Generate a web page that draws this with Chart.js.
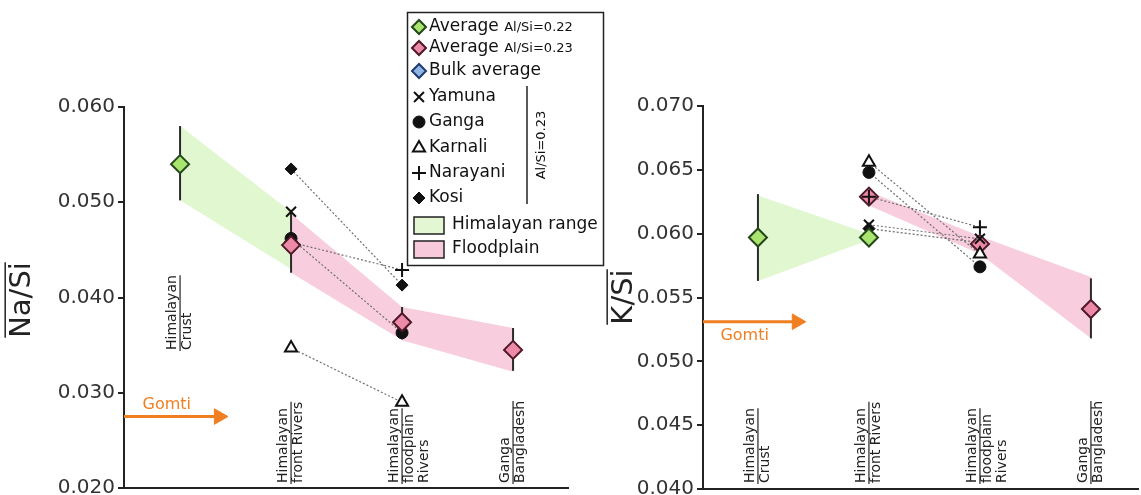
<!DOCTYPE html>
<html>
<head>
<meta charset="utf-8">
<script src="https://cdn.jsdelivr.net/npm/chart.js@4/dist/chart.umd.min.js"></script>
<style>
  html, body { margin: 0; padding: 0; background: #fff; }
  #wrap { position: relative; width: 1141px; height: 495px; overflow: hidden; }
  #naChart { position: absolute; left: 0; top: 0; }
  #kChart { position: absolute; left: 590px; top: 0; }
</style>
</head>
<body>
<div id="wrap">
  <canvas id="naChart" width="620" height="495"></canvas>
  <canvas id="kChart" width="551" height="495"></canvas>
</div>
<script>
// stages along the x axis (index 0..3)
const stageLabels = [
  ["Himalayan", "Crust"],
  ["Himalayan", "front Rivers"],
  ["Himalayan", "floodplain", "Rivers"],
  ["Ganga", "Bangladesh"]
]
const naTicks = [0.020, 0.030, 0.040, 0.050, 0.060]
const kTicks = [0.040, 0.045, 0.050, 0.055, 0.060, 0.065, 0.070]

// Na/Si panel
const naAvg022 = [0.0540, null, null, null]
const naAvg022Lo = [0.0502, null, null, null]
const naAvg022Hi = [0.0580, null, null, null]
const naAvg023 = [null, 0.0455, 0.0374, 0.0345]
const naAvg023Lo = [null, 0.0426, 0.0356, 0.0323]
const naAvg023Hi = [null, 0.0492, 0.0390, 0.0368]
const naYamuna = [null, 0.0490, null, null]
const naGanga = [null, 0.0462, 0.0363, null]
const naKarnali = [null, 0.0347, 0.0290, null]
const naNarayani = [null, 0.0458, 0.0429, null]
const naKosi = [null, 0.0535, 0.0413, null]
const naRangeHi = [0.0580, 0.0490, null, null]
const naRangeLo = [0.0502, 0.0430, null, null]
const naPlainHi = [null, 0.0488, 0.0390, 0.0368]
const naPlainLo = [null, 0.0426, 0.0355, 0.0322]
const naGomti = 0.0275

// K/Si panel
const kAvg022 = [0.0597, 0.0597, null, null]
const kAvg022Lo = [0.0563, null, null, null]
const kAvg022Hi = [0.0631, null, null, null]
const kAvg023 = [null, 0.0629, 0.0592, 0.0541]
const kAvg023Lo = [null, null, null, 0.0518]
const kAvg023Hi = [null, null, null, 0.0565]
const kYamuna = [null, 0.0607, 0.0596, null]
const kGanga = [null, 0.0648, 0.0574, null]
const kKarnali = [null, 0.0656, 0.0584, null]
const kNarayani = [null, 0.0629, 0.0605, null]
const kKosi = [null, 0.0604, 0.0593, null]
const kRangeHi = [0.0630, 0.0600, null, null]
const kRangeLo = [0.0563, 0.0595, null, null]
const kPlainHi = [null, 0.0633, 0.0598, 0.0566]
const kPlainLo = [null, 0.0622, 0.0584, 0.0518]
const kGomti = 0.0531

const FONT = '"DejaVu Sans", Verdana, sans-serif'
const ORANGE = "#f07f22"

const styles = {
  avg022: { pointStyle: "rectRot", radius: 9, fill: "#a8e46e", stroke: "#24461a", width: 2 },
  avg023: { pointStyle: "rectRot", radius: 9, fill: "#ec8aa8", stroke: "#4d1828", width: 2 },
  bulk: { pointStyle: "rectRot", radius: 7, fill: "#90b4e4", stroke: "#1f3c6e", width: 2 },
  yamuna: { pointStyle: "crossRot", radius: 7, fill: "#111", stroke: "#111", width: 2 },
  ganga: { pointStyle: "circle", radius: 6, fill: "#111", stroke: "#111", width: 1 },
  karnali: { pointStyle: "triangle", radius: 7, fill: "#fff", stroke: "#111", width: 2 },
  narayani: { pointStyle: "cross", radius: 7, fill: "#111", stroke: "#111", width: 2 },
  kosi: { pointStyle: "rectRot", radius: 6, fill: "#111", stroke: "#111", width: 1 }
}

const pts = arr => arr.map((v, i) => (v == null ? null : { x: i, y: v })).filter(Boolean)

function markers(label, arr, st, order, linked) {
  return {
    label, data: pts(arr), order,
    showLine: !!linked, borderColor: "#6f6f6f", borderWidth: 1.2, borderDash: [2, 2],
    pointStyle: st.pointStyle, pointRadius: st.radius, pointHoverRadius: st.radius,
    pointBackgroundColor: st.fill, pointBorderColor: st.stroke, pointBorderWidth: st.width
  }
}

function errorBars(lo, hi) {
  const sets = []
  lo.forEach((l, i) => {
    if (l == null || hi[i] == null) return
    sets.push({
      data: [{ x: i, y: l }, { x: i, y: hi[i] }], order: 4,
      showLine: true, borderColor: "#2a2a2a", borderWidth: 2, pointRadius: 0
    })
  })
  return sets
}

function band(hi, lo, color) {
  return [
    { data: pts(hi), order: 9, showLine: true, borderWidth: 0, pointRadius: 0, fill: false },
    { data: pts(lo), order: 9, showLine: true, borderWidth: 0, pointRadius: 0, fill: "-1", backgroundColor: color }
  ]
}

function gomtiArrow(value, xFrom, xTo) {
  return {
    data: [{ x: xFrom, y: value }, { x: xTo, y: value }], order: 6,
    showLine: true, borderColor: ORANGE, borderWidth: 3,
    pointStyle: "triangle", pointRadius: [0, 9], pointRotation: 90,
    pointBackgroundColor: ORANGE, pointBorderColor: ORANGE, pointBorderWidth: 1
  }
}

function overlineText(ctx, text, cx, cy, size) {
  ctx.save()
  ctx.translate(cx, cy)
  ctx.rotate(-Math.PI / 2)
  ctx.font = size + "px " + FONT
  ctx.fillStyle = "#222"
  ctx.textAlign = "center"
  ctx.textBaseline = "middle"
  ctx.fillText(text, 0, 0)
  const w = ctx.measureText(text).width
  ctx.strokeStyle = "#222"
  ctx.lineWidth = 1.5
  ctx.beginPath()
  ctx.moveTo(-w / 2, -size * 0.58)
  ctx.lineTo(w / 2, -size * 0.58)
  ctx.stroke()
  ctx.restore()
}

// annotations: stage labels, axis title with overline, Gomti caption
const annotate = {
  id: "annotate",
  afterDraw(chart, args, opts) {
    const { ctx, scales: { x, y } } = chart
    ctx.save()
    ctx.font = "14px " + FONT
    ctx.fillStyle = "#222"
    ctx.strokeStyle = "#222"
    ctx.lineWidth = 1.2
    stageLabels.forEach((lines, i) => {
      const px = x.getPixelForValue(i)
      const by = opts.labelBottoms[i]
      const widths = lines.map(t => ctx.measureText(t).width)
      lines.forEach((t, j) => {
        ctx.save()
        ctx.translate(px - 7.5 + j * 15, by)
        ctx.rotate(-Math.PI / 2)
        ctx.textAlign = "left"
        ctx.textBaseline = "middle"
        ctx.fillText(t, 0, 0)
        ctx.restore()
      })
      const len = Math.max(widths[0], widths[1])
      ctx.beginPath()
      ctx.moveTo(px, by + 1)
      ctx.lineTo(px, by - len)
      ctx.stroke()
    })
    ctx.restore()

    overlineText(ctx, opts.title, opts.titleX, opts.titleY, 29)

    ctx.save()
    ctx.font = "16px " + FONT
    ctx.fillStyle = ORANGE
    ctx.textAlign = "center"
    ctx.textBaseline = "middle"
    ctx.fillText("Gomti", x.getPixelForValue(-0.12), y.getPixelForValue(opts.gomti) + opts.gomtiDy)
    ctx.restore()
  }
}

// legend box drawn on the left panel
const legendRows = [
  { name: "Average", note: "Al/Si=0.22", st: styles.avg022 },
  { name: "Average", note: "Al/Si=0.23", st: styles.avg023 },
  { name: "Bulk average", st: styles.bulk },
  { name: "Yamuna", st: styles.yamuna },
  { name: "Ganga", st: styles.ganga },
  { name: "Karnali", st: styles.karnali },
  { name: "Narayani", st: styles.narayani },
  { name: "Kosi", st: styles.kosi },
  { name: "Himalayan range", swatch: "#e2f7d2" },
  { name: "Floodplain", swatch: "#f8c9db" }
]
const legendRowY = [27, 48, 71, 97, 122, 148, 173, 198, 225, 249]

const boxLegend = {
  id: "boxLegend",
  afterDraw(chart) {
    const ctx = chart.ctx
    ctx.save()
    ctx.fillStyle = "#fff"
    ctx.fillRect(407, 12, 196, 253)
    ctx.strokeStyle = "#222"
    ctx.lineWidth = 1.5
    ctx.strokeRect(407.5, 12.5, 196, 253)
    legendRows.forEach((row, k) => {
      const yy = legendRowY[k]
      let tx = 429
      if (row.swatch) {
        ctx.fillStyle = row.swatch
        ctx.fillRect(414, yy - 8, 30, 17)
        ctx.strokeStyle = "#222"
        ctx.lineWidth = 1.5
        ctx.strokeRect(414, yy - 8, 30, 17)
        tx = 452
      } else {
        const st = row.st
        ctx.fillStyle = st.fill
        ctx.strokeStyle = st.stroke
        ctx.lineWidth = st.width
        Chart.helpers.drawPoint(ctx, { pointStyle: st.pointStyle, radius: Math.min(st.radius, 7), rotation: 0, borderWidth: st.width }, 419, yy)
      }
      ctx.fillStyle = "#111"
      ctx.font = "17px " + FONT
      ctx.textAlign = "left"
      ctx.textBaseline = "middle"
      ctx.fillText(row.name, tx, yy)
      if (row.note) {
        const w = ctx.measureText(row.name + " ").width
        ctx.font = "13px " + FONT
        ctx.fillText(row.note, tx + w, yy + 1)
      }
    })
    ctx.strokeStyle = "#222"
    ctx.lineWidth = 1.5
    ctx.beginPath()
    ctx.moveTo(527, 86)
    ctx.lineTo(527, 204)
    ctx.stroke()
    ctx.save()
    ctx.translate(542, 145)
    ctx.rotate(-Math.PI / 2)
    ctx.font = "13px " + FONT
    ctx.fillStyle = "#111"
    ctx.textAlign = "center"
    ctx.textBaseline = "middle"
    ctx.fillText("Al/Si=0.23", 0, 0)
    ctx.restore()
    ctx.restore()
  }
}

function makeChart(id, cfg) {
  return new Chart(document.getElementById(id), {
    type: "line",
    data: { datasets: cfg.datasets },
    options: {
      responsive: false,
      animation: false,
      events: [],
      elements: { line: { tension: 0 } },
      layout: { padding: cfg.padding, autoPadding: false },
      plugins: { legend: { display: false }, tooltip: { enabled: false }, annotate: cfg.annotate },
      scales: {
        x: {
          type: "linear", min: cfg.xMin, max: cfg.xMax,
          grid: { display: false, drawTicks: false },
          border: { display: true, color: "#222", width: 2 },
          ticks: { display: false },
          afterFit: s => { s.height = 0; s.paddingLeft = 0; s.paddingRight = 0 }
        },
        y: {
          type: "linear", min: cfg.ticks[0], max: cfg.ticks[cfg.ticks.length - 1],
          afterBuildTicks: s => { s.ticks = cfg.ticks.map(v => ({ value: v })) },
          afterFit: s => { s.width = cfg.yWidth; s.paddingTop = 0; s.paddingBottom = 0 },
          grid: { display: true, drawOnChartArea: false, drawTicks: true, tickLength: 6, color: "#222", lineWidth: 2 },
          border: { display: true, color: "#222", width: 2 },
          ticks: { padding: 3, color: "#333", font: { family: FONT, size: 20 }, callback: v => Number(v).toFixed(3) }
        }
      }
    },
    plugins: cfg.plugins
  })
}

makeChart("naChart", {
  padding: { top: 107, bottom: 7, left: 0, right: 52 },
  yWidth: 124, xMin: -0.505, xMax: 3.495, ticks: naTicks,
  annotate: { labelBottoms: [350, 483, 483, 483], title: "Na/Si", titleX: 22, titleY: 300, gomti: naGomti, gomtiDy: -12 },
  plugins: [annotate, boxLegend],
  datasets: [
    markers("Average Al/Si=0.22", naAvg022, styles.avg022, 1),
    markers("Average Al/Si=0.23", naAvg023, styles.avg023, 1),
    markers("Narayani", naNarayani, styles.narayani, 2, true),
    markers("Yamuna", naYamuna, styles.yamuna, 2, true),
    markers("Karnali", naKarnali, styles.karnali, 2, true),
    markers("Kosi", naKosi, styles.kosi, 2, true),
    markers("Ganga", naGanga, styles.ganga, 3, true),
    ...errorBars(naAvg022Lo, naAvg022Hi),
    ...errorBars(naAvg023Lo, naAvg023Hi),
    gomtiArrow(naGomti, -0.505, 0.35),
    ...band(naRangeHi, naRangeLo, "rgba(214,244,192,0.75)"),
    ...band(naPlainHi, naPlainLo, "rgba(246,190,212,0.75)")
  ]
})

makeChart("kChart", {
  padding: { top: 106, bottom: 6, left: 0, right: 3 },
  yWidth: 113, xMin: -0.495, xMax: 3.424, ticks: kTicks,
  annotate: { labelBottoms: [483, 483, 483, 483], title: "K/Si", titleX: 34, titleY: 297, gomti: kGomti, gomtiDy: 14 },
  plugins: [annotate],
  datasets: [
    markers("Narayani", kNarayani, styles.narayani, 0, true),
    markers("Yamuna", kYamuna, styles.yamuna, 0, true),
    markers("Karnali", kKarnali, styles.karnali, 0, true),
    markers("Average Al/Si=0.22", kAvg022, styles.avg022, 1),
    markers("Average Al/Si=0.23", kAvg023, styles.avg023, 1),
    markers("Kosi", kKosi, styles.kosi, 2, true),
    markers("Ganga", kGanga, styles.ganga, 2, true),
    ...errorBars(kAvg022Lo, kAvg022Hi),
    ...errorBars(kAvg023Lo, kAvg023Hi),
    gomtiArrow(kGomti, -0.495, 0.35),
    ...band(kRangeHi, kRangeLo, "rgba(214,244,192,0.75)"),
    ...band(kPlainHi, kPlainLo, "rgba(246,190,212,0.75)")
  ]
})
</script>
</body>
</html>
